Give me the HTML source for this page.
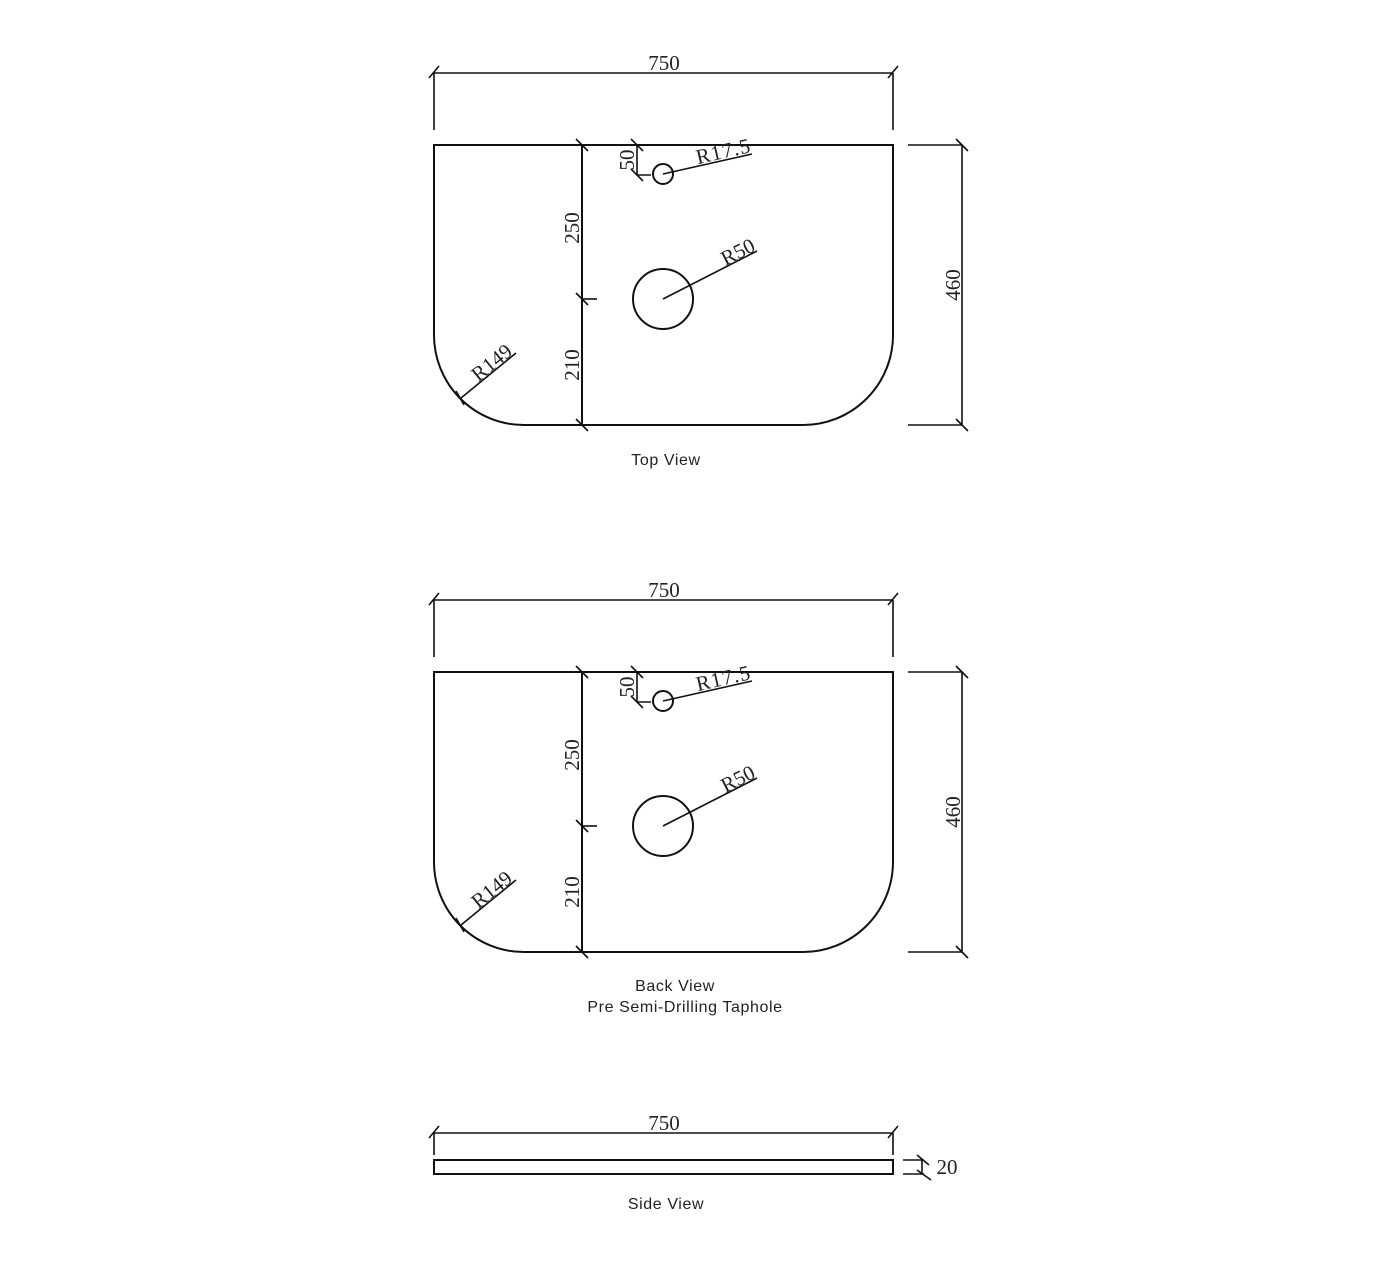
<!DOCTYPE html>
<html><head><meta charset="utf-8"><style>
html,body{margin:0;padding:0;background:#fff;}
svg{display:block;}
.l{stroke:#111;stroke-width:2;fill:none;}
.t{stroke:#111;stroke-width:1.6;fill:none;}
.d{font-family:"Liberation Serif",serif;font-size:21px;fill:#222;}
.c{font-family:"Liberation Sans",sans-serif;font-size:16px;fill:#222;letter-spacing:0.6px;}
</style></head><body>
<svg width="1400" height="1279" viewBox="0 0 1400 1279" xmlns="http://www.w3.org/2000/svg">
<g>
<path class="l" d="M434 145 H893 V335 A90 90 0 0 1 803 425 H524 A90 90 0 0 1 434 335 Z"/>
<line class="l" x1="582" y1="145" x2="582" y2="425"/>
<line class="t" x1="582" y1="299" x2="597" y2="299"/>
<path class="t" d="M576 139 L588 151 M576 293 L588 305 M576 419 L588 431"/>
<text class="d" transform="translate(579,228) rotate(-90)" text-anchor="middle">250</text>
<text class="d" transform="translate(579,365) rotate(-90)" text-anchor="middle">210</text>
<circle class="l" cx="663" cy="174" r="10"/>
<circle class="l" cx="663" cy="299" r="30"/>
<path class="t" d="M637 145 V175 H651 M631 139 L643 151 M631 169 L643 181"/>
<text class="d" transform="translate(634,160) rotate(-90)" text-anchor="middle" font-size="19">50</text>
<line class="t" x1="663" y1="174" x2="752" y2="154"/>
<text class="d" transform="translate(725,158) rotate(-13)" text-anchor="middle" letter-spacing="1">R17.5</text>
<line class="t" x1="663" y1="299" x2="757" y2="251"/>
<text class="d" transform="translate(741,258) rotate(-27)" text-anchor="middle">R50</text>
<line class="t" x1="461" y1="398" x2="516" y2="353"/>
<path class="t" d="M456 391 L464 405"/>
<text class="d" transform="translate(496,368) rotate(-39)" text-anchor="middle">R149</text>
<path class="t" d="M434 73 H893 M434 73 V130 M893 73 V130 M429 78 L439 66 M888 78 L898 66"/>
<text class="d" x="664" y="70" text-anchor="middle">750</text>
<path class="t" d="M908 145 H962 M908 425 H962 M962 145 V425 M956 139 L968 151 M956 419 L968 431"/>
<text class="d" transform="translate(960,285) rotate(-90)" text-anchor="middle">460</text>
</g>
<g transform="translate(0,527)">
<path class="l" d="M434 145 H893 V335 A90 90 0 0 1 803 425 H524 A90 90 0 0 1 434 335 Z"/>
<line class="l" x1="582" y1="145" x2="582" y2="425"/>
<line class="t" x1="582" y1="299" x2="597" y2="299"/>
<path class="t" d="M576 139 L588 151 M576 293 L588 305 M576 419 L588 431"/>
<text class="d" transform="translate(579,228) rotate(-90)" text-anchor="middle">250</text>
<text class="d" transform="translate(579,365) rotate(-90)" text-anchor="middle">210</text>
<circle class="l" cx="663" cy="174" r="10"/>
<circle class="l" cx="663" cy="299" r="30"/>
<path class="t" d="M637 145 V175 H651 M631 139 L643 151 M631 169 L643 181"/>
<text class="d" transform="translate(634,160) rotate(-90)" text-anchor="middle" font-size="19">50</text>
<line class="t" x1="663" y1="174" x2="752" y2="154"/>
<text class="d" transform="translate(725,158) rotate(-13)" text-anchor="middle" letter-spacing="1">R17.5</text>
<line class="t" x1="663" y1="299" x2="757" y2="251"/>
<text class="d" transform="translate(741,258) rotate(-27)" text-anchor="middle">R50</text>
<line class="t" x1="461" y1="398" x2="516" y2="353"/>
<path class="t" d="M456 391 L464 405"/>
<text class="d" transform="translate(496,368) rotate(-39)" text-anchor="middle">R149</text>
<path class="t" d="M434 73 H893 M434 73 V130 M893 73 V130 M429 78 L439 66 M888 78 L898 66"/>
<text class="d" x="664" y="70" text-anchor="middle">750</text>
<path class="t" d="M908 145 H962 M908 425 H962 M962 145 V425 M956 139 L968 151 M956 419 L968 431"/>
<text class="d" transform="translate(960,285) rotate(-90)" text-anchor="middle">460</text>
</g>
<text class="c" x="666" y="465" text-anchor="middle">Top View</text>
<text class="c" x="675" y="991" text-anchor="middle">Back View</text>
<text class="c" x="685" y="1012" text-anchor="middle">Pre Semi-Drilling Taphole</text>
<rect class="l" x="434" y="1160" width="459" height="14"/>
<path class="t" d="M434 1133 H893 M434 1133 V1155 M893 1133 V1155 M429 1138 L439 1126 M888 1138 L898 1126"/>
<text class="d" x="664" y="1130" text-anchor="middle">750</text>
<path class="t" d="M903 1160 H924 M903 1174 H924 M922 1160 V1174 M917 1155 L929 1165 M917 1170 L931 1180"/>
<text class="d" x="947" y="1174" text-anchor="middle">20</text>
<text class="c" x="666" y="1209" text-anchor="middle">Side View</text>
</svg>
</body></html>
